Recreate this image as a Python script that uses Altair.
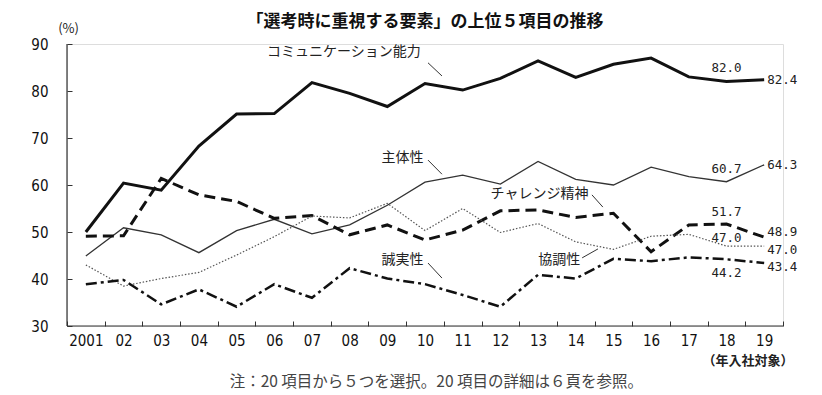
import altair as alt
import pandas as pd

# ---------------- data ----------------
years = list(range(2001, 2020))
series_names = ["コミュニケーション能力", "主体性", "チャレンジ精神", "協調性", "誠実性"]
communication = [50.0, 60.4, 58.9, 68.3, 75.1, 75.2, 81.8, 79.5, 76.7, 81.6, 80.2, 82.7, 86.4, 82.9, 85.7, 87.0, 83.0, 82.0, 82.4]
shutaisei = [44.9, 50.9, 49.4, 45.6, 50.3, 52.7, 49.6, 51.5, 55.7, 60.6, 62.1, 60.2, 65.0, 61.2, 60.0, 63.8, 61.8, 60.7, 64.3]
challenge = [49.1, 49.2, 61.4, 57.9, 56.5, 52.9, 53.5, 49.4, 51.5, 48.3, 50.4, 54.5, 54.7, 53.1, 54.0, 45.8, 51.5, 51.7, 48.9]
kyochosei = [43.0, 38.5, 40.1, 41.4, 45.1, 49.0, 53.4, 53.0, 56.1, 50.3, 55.0, 49.9, 51.8, 47.9, 46.3, 49.1, 49.5, 47.0, 47.0]
seijitsusei = [38.9, 39.8, 34.6, 37.8, 34.1, 38.9, 36.0, 42.3, 40.1, 38.9, 36.6, 34.1, 40.9, 40.1, 44.3, 43.8, 44.6, 44.2, 43.4]
series_values = [communication, shutaisei, challenge, kyochosei, seijitsusei]
y_ticks = [30, 40, 50, 60, 70, 80, 90]

title_text = "「選考時に重視する要素」の上位５項目の推移"
note_text = "注：20 項目から５つを選択。20 項目の詳細は６頁を参照。"
unit_text = "(%)"
xunit_text = "（年入社対象）"

# ---------------- layout / style (not data) ----------------
W, H = 716, 282
FONT = "Noto Sans CJK JP"
NUMFONT = "Liberation Sans Narrow, DejaVu Sans Condensed, Liberation Sans"
VALFONT = "DejaVu Sans Mono"

styles = {
    "コミュニケーション能力": dict(strokeWidth=3.0, color="#111111"),
    "主体性": dict(strokeWidth=1.3, color="#333333"),
    "チャレンジ精神": dict(strokeWidth=3.0, color="#111111", strokeDash=[11, 6]),
    "協調性": dict(strokeWidth=1.2, color="#555555", strokeDash=[1.5, 1.8]),
    "誠実性": dict(strokeWidth=2.5, color="#111111", strokeDash=[11, 4, 3, 4]),
}
dy18 = {"コミュニケーション能力": -14, "主体性": -13, "チャレンジ精神": -12, "協調性": -8, "誠実性": 14}
dy19 = {"コミュニケーション能力": 0, "主体性": 0, "チャレンジ精神": -5, "協調性": 4, "誠実性": 4}
name_pos = {
    "コミュニケーション能力": (2007.85, 88.3),
    "主体性": (2009.40, 65.7),
    "チャレンジ精神": (2013.04, 58.1),
    "誠実性": (2009.40, 44.0),
    "協調性": (2013.56, 44.0),
}
leader_pos = {
    "コミュニケーション能力": (2010.08, 86.0, 2010.45, 83.2),
    "主体性": (2010.08, 65.3, 2010.45, 62.3),
    "チャレンジ精神": (2014.43, 57.9, 2014.72, 55.3),
    "誠実性": (2010.08, 43.4, 2010.45, 40.2),
    "協調性": (2014.17, 44.5, 2014.59, 46.4),
}

# ---------------- build ----------------
rows = []
for name, vals in zip(series_names, series_values):
    for yr, v in zip(years, vals):
        rows.append({"series": name, "year": yr, "value": v})
df = pd.DataFrame(rows)

x_axis_values = []
for yr in years:
    x_axis_values += [yr - 0.5, yr]
x_axis_values.append(years[-1] + 0.5)

x_scale = alt.Scale(domain=[years[0] - 0.5, years[-1] + 0.5], nice=False, zero=False)
y_scale = alt.Scale(domain=[30, 90], nice=False, zero=False)

x_axis = alt.Axis(
    values=x_axis_values,
    labelExpr="datum.value % 1 != 0 ? '' : (datum.value == 2001 ? '2001' : slice(toString(datum.value), 2))",
    tickOpacity=alt.condition("datum.value % 1 == 0", alt.value(0), alt.value(1)),
    tickSize=5, offset=-5, domain=False, grid=False, title=None,
    labelPadding=7, labelFont=NUMFONT, labelFontSize=15, labelColor="#111",
    labelOverlap=False, labelFlush=False, tickColor="#333", labelBaseline="top",
)
y_axis = alt.Axis(
    values=y_ticks, tickSize=5, offset=-5, domain=False, grid=False, title=None,
    labelPadding=19, labelFont=NUMFONT, labelFontSize=15, labelColor="#111",
    tickColor="#333", labelFlush=False,
)

base = alt.Chart(df)
X = alt.X("year:Q", scale=x_scale, axis=x_axis)
Y = alt.Y("value:Q", scale=y_scale, axis=y_axis)

layers = []
# axis lines
layers.append(alt.Chart(pd.DataFrame({"v": [30]})).mark_rule(color="#333", strokeWidth=1.2)
              .encode(y=alt.Y("v:Q", scale=y_scale, axis=y_axis)))
layers.append(alt.Chart(pd.DataFrame({"v": [years[0] - 0.5]})).mark_rule(color="#333", strokeWidth=1.2)
              .encode(x=alt.X("v:Q", scale=x_scale, axis=x_axis)))

for name in series_names:
    st = styles[name]
    kw = dict(strokeWidth=st["strokeWidth"], color=st["color"], strokeJoin="miter")
    if "strokeDash" in st:
        kw["strokeDash"] = st["strokeDash"]
    layers.append(base.transform_filter(alt.datum.series == name).mark_line(**kw).encode(x=X, y=Y, order="year:Q"))

# value labels at 2018 and 2019
for name in series_names:
    layers.append(
        base.transform_filter((alt.datum.series == name) & (alt.datum.year == 2018))
        .mark_text(font=VALFONT, fontSize=12.5, color="#222", dy=dy18[name])
        .encode(x=X, y=Y, text=alt.Text("value:Q", format=".1f"))
    )
    layers.append(
        base.transform_filter((alt.datum.series == name) & (alt.datum.year == 2019))
        .mark_text(font=VALFONT, fontSize=12.5, color="#222", align="left", dx=3, dy=dy19[name])
        .encode(x=X, y=Y, text=alt.Text("value:Q", format=".1f"))
    )

# series name labels
ndf = pd.DataFrame([{"t": n, "x": name_pos[n][0], "y": name_pos[n][1]} for n in series_names])
layers.append(alt.Chart(ndf).mark_text(font=FONT, fontSize=14, color="#222", baseline="middle")
              .encode(x=alt.X("x:Q", scale=x_scale, axis=x_axis), y=alt.Y("y:Q", scale=y_scale, axis=y_axis), text="t:N"))

# leader lines
ldf = pd.DataFrame([{"x": leader_pos[n][0], "y": leader_pos[n][1], "x2": leader_pos[n][2], "y2": leader_pos[n][3]} for n in series_names])
layers.append(alt.Chart(ldf).mark_rule(color="#333", strokeWidth=1)
              .encode(x=alt.X("x:Q", scale=x_scale, axis=x_axis), x2="x2:Q",
                      y=alt.Y("y:Q", scale=y_scale, axis=y_axis), y2="y2:Q"))

# misc texts (positioned in data units)
mdf = pd.DataFrame([
    {"t": unit_text, "x": 2000.54, "y": 93.2, "k": "unit"},
    {"t": xunit_text, "x": 2018.57, "y": 22.6, "k": "xunit"},
    {"t": note_text, "x": 2010.3, "y": 18.1, "k": "note"},
])
layers.append(alt.Chart(mdf).transform_filter(alt.datum.k == "unit")
              .mark_text(font=FONT, fontSize=13, color="#222", baseline="middle")
              .encode(x=alt.X("x:Q", scale=x_scale, axis=x_axis), y=alt.Y("y:Q", scale=y_scale, axis=y_axis), text="t:N"))
layers.append(alt.Chart(mdf).transform_filter(alt.datum.k == "xunit")
              .mark_text(font=FONT, fontSize=13, fontWeight="bold", color="#222", baseline="middle")
              .encode(x=alt.X("x:Q", scale=x_scale, axis=x_axis), y=alt.Y("y:Q", scale=y_scale, axis=y_axis), text="t:N"))
layers.append(alt.Chart(mdf).transform_filter(alt.datum.k == "note")
              .mark_text(font=FONT, fontSize=15.5, color="#444", baseline="middle")
              .encode(x=alt.X("x:Q", scale=x_scale, axis=x_axis), y=alt.Y("y:Q", scale=y_scale, axis=y_axis), text="t:N"))

chart = alt.layer(*layers).properties(
    width=W, height=H,
    title=alt.TitleParams(title_text, font=FONT, fontSize=17, fontWeight="bold", color="#111",
                          anchor="middle", offset=-8),
    autosize=alt.AutoSizeParams(type="none"),
    padding={"left": 59, "top": 36, "right": 31, "bottom": 66},
).configure_view(stroke=None).configure(font=FONT)

chart.save("out.html", embed_options={"renderer": "svg", "actions": False})
